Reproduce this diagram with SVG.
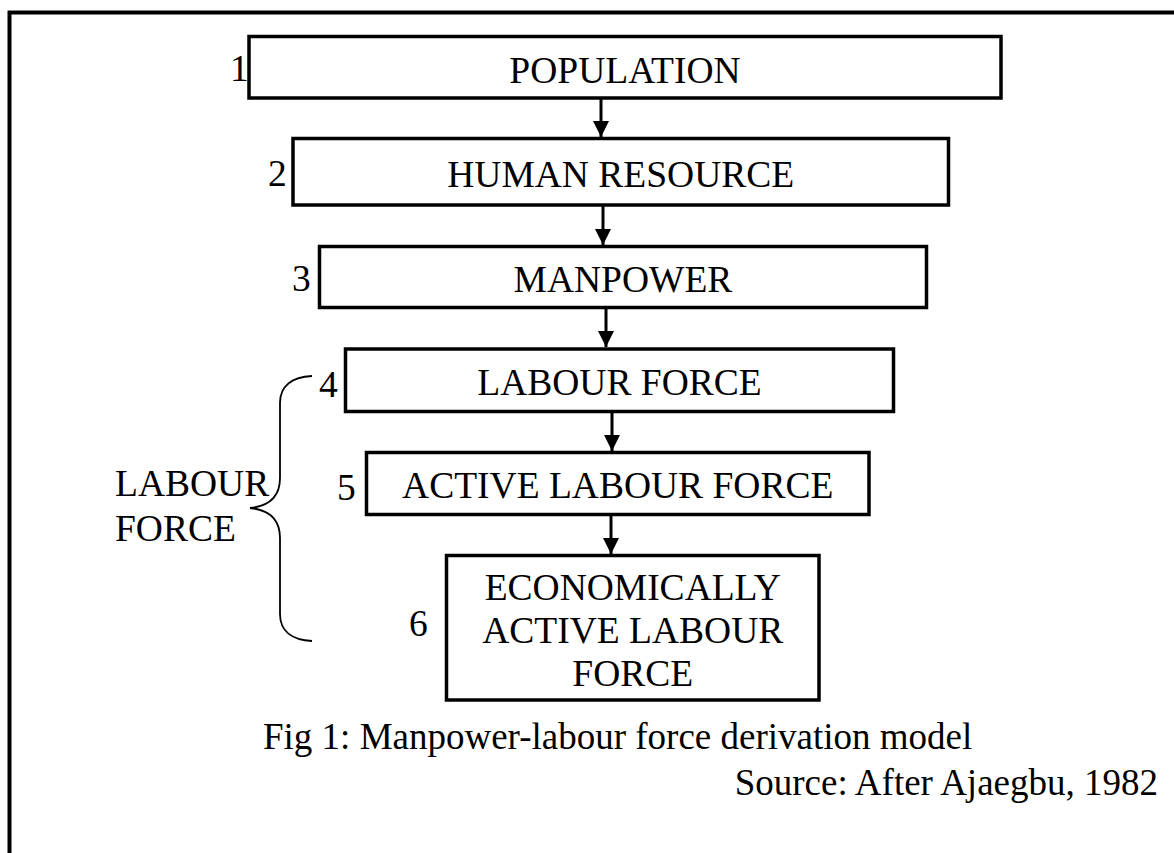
<svg xmlns="http://www.w3.org/2000/svg" width="1174" height="853" viewBox="0 0 1174 853">
  <style>
    .box { fill: #fff; stroke: #000; stroke-width: 3.5; }
    .t { font-family: "Liberation Serif", "Times New Roman", serif; font-size: 37.5px; fill: #000; }
    .cap { font-size: 37px; }
    .c { text-anchor: middle; }
    .e { text-anchor: end; }
    .conn { stroke: #000; stroke-width: 3; fill: none; }
    .brace { stroke: #000; stroke-width: 1.8; fill: none; }
  </style>
  <defs>
    <marker id="arr" markerUnits="userSpaceOnUse" markerWidth="18" markerHeight="16" refX="16" refY="8" orient="auto">
      <path d="M0,0 L16,8 L0,16 Z" fill="#000"/>
    </marker>
  </defs>
  <rect x="9.5" y="12.5" width="1200" height="900" fill="none" stroke="#000" stroke-width="4"/>

  <g id="connectors">
    <line class="conn" x1="601" y1="99" x2="601" y2="137" marker-end="url(#arr)"/>
    <line class="conn" x1="603" y1="206" x2="603" y2="245" marker-end="url(#arr)"/>
    <line class="conn" x1="606" y1="309" x2="606" y2="347" marker-end="url(#arr)"/>
    <line class="conn" x1="612" y1="413" x2="612" y2="451" marker-end="url(#arr)"/>
    <line class="conn" x1="611" y1="516" x2="611" y2="554" marker-end="url(#arr)"/>
  </g>

  <g id="node1">
    <rect class="box" x="249" y="36.5" width="752" height="61.5"/>
    <text class="t c" x="625" y="83">POPULATION</text>
    <text class="t" x="230" y="81">1</text>
  </g>
  <g id="node2">
    <rect class="box" x="293" y="138.5" width="655.5" height="66.5"/>
    <text class="t c" x="620.75" y="187">HUMAN RESOURCE</text>
    <text class="t" x="268" y="186">2</text>
  </g>
  <g id="node3">
    <rect class="box" x="319.5" y="246.5" width="607" height="61"/>
    <text class="t c" x="623" y="292">MANPOWER</text>
    <text class="t" x="292" y="291">3</text>
  </g>
  <g id="node4">
    <rect class="box" x="345.5" y="349" width="548" height="62.5"/>
    <text class="t c" x="619.5" y="395">LABOUR FORCE</text>
    <text class="t" x="319" y="397">4</text>
  </g>
  <g id="node5">
    <rect class="box" x="366.5" y="452.5" width="502.5" height="62"/>
    <text class="t c" x="617.75" y="498">ACTIVE LABOUR FORCE</text>
    <text class="t" x="337" y="500">5</text>
  </g>
  <g id="node6">
    <rect class="box" x="446.5" y="555.5" width="372.5" height="144.5"/>
    <text class="t c" x="632.75" y="600">ECONOMICALLY</text>
    <text class="t c" x="632.75" y="643">ACTIVE LABOUR</text>
    <text class="t c" x="632.75" y="686">FORCE</text>
    <text class="t" x="409" y="636">6</text>
  </g>

  <g id="brace-label">
    <path class="brace" d="M312,376 C292,377 280,386 280,403 L280,478 C280,496 270,506 250,508 C270,510 280,520 280,538 L280,614 C280,631 292,640 312,641"/>
    <text class="t" x="115" y="496">LABOUR</text>
    <text class="t" x="115" y="541">FORCE</text>
  </g>

  <g id="caption">
    <text class="t cap" x="263" y="749">Fig 1: Manpower-labour force derivation model</text>
    <text class="t cap e" x="1158" y="795">Source: After Ajaegbu, 1982</text>
  </g>
</svg>
